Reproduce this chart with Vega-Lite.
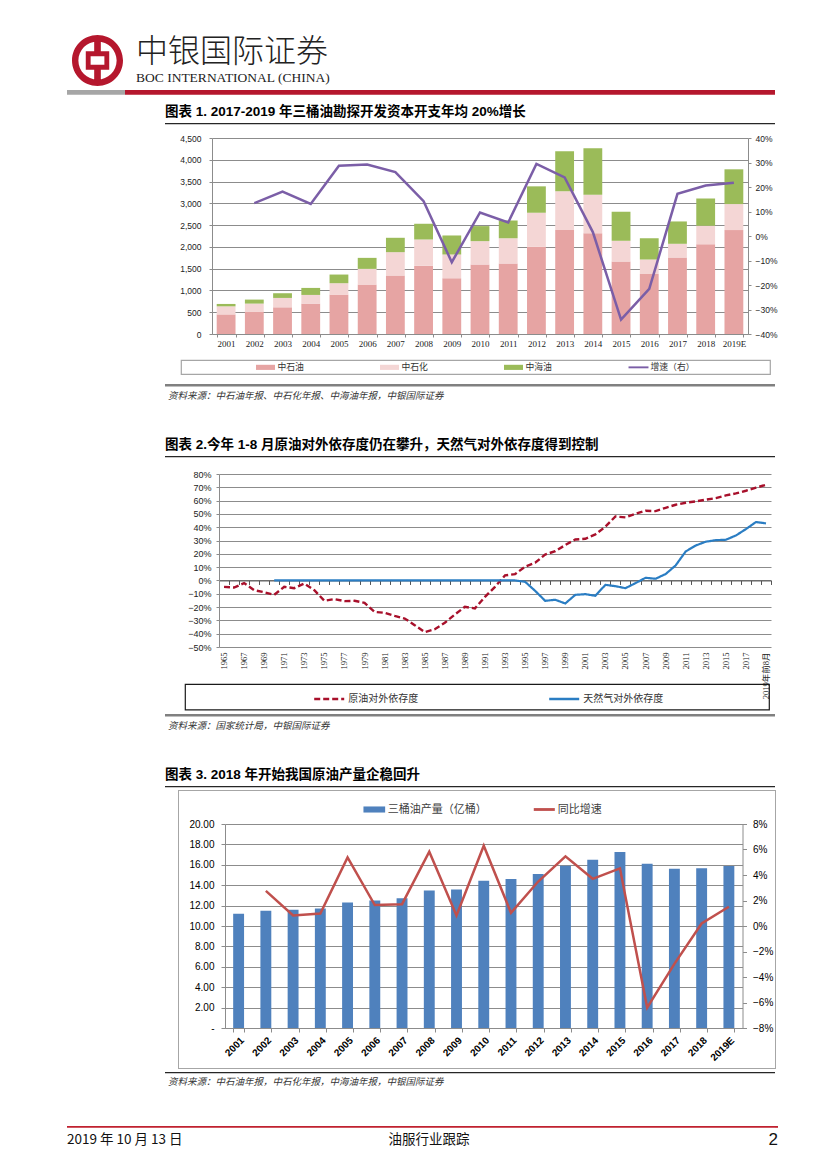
{
"$schema":"https://vega.github.io/schema/vega-lite/v6.json",
"background":"white",
"padding":0,
"columns":12,
"spacing":{"row":0,"column":-1000},
"bounds":"flush",
"align":{"row":"each","column":"none"},
"resolve":{"scale":{"x":"independent","y":"independent","color":"independent","strokeDash":"independent"},"legend":{"color":"independent","strokeDash":"independent"},"axis":{"x":"independent","y":"independent"}},
"config":{"view":{"stroke":null},"legend":{"padding":0}},
"concat":[
{"width":1067,"height":35,"data":{"values":[]},"mark":"point"},
{"width":1005,"height":0.01,"data":{"values":[]},"mark":"point"},
{"width":1053,"height":0.01,"data":{"values":[]},"mark":"point"},
{"width":1040,"height":0.01,"data":{"values":[]},"mark":"point"},
{"width":1013,"height":0.01,"data":{"values":[]},"mark":"point"},
{"width":1003,"height":0.01,"data":{"values":[]},"mark":"point"},
{"width":1004,"height":0.01,"data":{"values":[]},"mark":"point"},
{"width":1027,"height":0.01,"data":{"values":[]},"mark":"point"},
{"width":1007,"height":0.01,"data":{"values":[]},"mark":"point"},
{"width":1006,"height":0.01,"data":{"values":[]},"mark":"point"},
{"width":1550,"height":0.01,"data":{"values":[]},"mark":"point"},
{"width":1,"height":0.01,"data":{"values":[]},"mark":"point"},

{"width":0.5,"height":55,"data":{"values":[]},"mark":"point"},
{"width":0.01,"height":0.01,"data":{"values":[]},"mark":"point"},
{"width":51,"height":51,"data":{"values":[{"品牌":"中银国际"}]},"mark":{"type":"point","shape":"M0,-1A1,1,0,1,1,0,1A1,1,0,1,1,0,-1Z M0,-0.75A0.75,0.75,0,1,0,0,0.75A0.75,0.75,0,1,0,0,-0.75Z M-0.46,-0.36H0.46V0.36H-0.46Z M-0.27,-0.17V0.17H0.27V-0.17Z M-0.13,-0.8H0.13V-0.3H-0.13Z M-0.13,0.3H0.13V0.8H-0.13Z","size":2601,"filled":true,"color":"#B5172D","opacity":1,"strokeWidth":0},"encoding":{}},
{"width":0.01,"height":0.01,"data":{"values":[]},"mark":"point"},
{"width":0.01,"height":0.01,"data":{"values":[]},"mark":"point"},
{"width":0.01,"height":0.01,"data":{"values":[]},"mark":"point"},
{"width":0.01,"height":0.01,"data":{"values":[]},"mark":"point"},
{"width":0.01,"height":0.01,"data":{"values":[]},"mark":"point"},
{"width":0.01,"height":0.01,"data":{"values":[]},"mark":"point"},
{"width":0.01,"height":0.01,"data":{"values":[]},"mark":"point"},
{"width":0.01,"height":0.01,"data":{"values":[]},"mark":"point"},
{"width":0.01,"height":0.01,"data":{"values":[]},"mark":"point"},

{"width":0.5,"height":33,"data":{"values":[]},"mark":"point"},
{"width":58,"height":4.7,"data":{"values":[]},"mark":"point","view":{"fill":"#A6A6A6","stroke":null}},
{"width":0.01,"height":0.01,"data":{"values":[]},"mark":"point"},
{"width":650,"height":4.7,"data":{"values":[]},"mark":"point","view":{"fill":"#B5172D","stroke":null},
 "title":{"text":"中银国际证券","subtitle":"BOC INTERNATIONAL (CHINA)","orient":"top","anchor":"start","offset":5,"dx":11,"font":"Noto Sans CJK SC","fontSize":32,"fontWeight":300,"color":"#222","subtitleFont":"Liberation Serif","subtitleFontSize":13.5,"subtitleColor":"#222","subtitlePadding":2}},
{"width":0.01,"height":0.01,"data":{"values":[]},"mark":"point"},
{"width":0.01,"height":0.01,"data":{"values":[]},"mark":"point"},
{"width":0.01,"height":0.01,"data":{"values":[]},"mark":"point"},
{"width":0.01,"height":0.01,"data":{"values":[]},"mark":"point"},
{"width":0.01,"height":0.01,"data":{"values":[]},"mark":"point"},
{"width":0.01,"height":0.01,"data":{"values":[]},"mark":"point"},
{"width":0.01,"height":0.01,"data":{"values":[]},"mark":"point"},
{"width":0.01,"height":0.01,"data":{"values":[]},"mark":"point"},

{"width":0.5,"height":15,"data":{"values":[]},"mark":"point"},
{"width":0.01,"height":0.01,"data":{"values":[]},"mark":"point"},
{"width":0.01,"height":0.01,"data":{"values":[]},"mark":"point"},
{"width":0.01,"height":0.01,"data":{"values":[]},"mark":"point"},
{"width":610,"height":1.3,"data":{"values":[]},"mark":"point","view":{"fill":"#262626","stroke":null},
 "title":{"text":"图表 1. 2017-2019 年三桶油勘探开发资本开支年均 20%增长","orient":"top","anchor":"start","offset":5,"font":"Liberation Sans, Noto Sans CJK SC","fontSize":13.5,"fontWeight":"bold","color":"#000"}},
{"width":0.01,"height":0.01,"data":{"values":[]},"mark":"point"},
{"width":0.01,"height":0.01,"data":{"values":[]},"mark":"point"},
{"width":0.01,"height":0.01,"data":{"values":[]},"mark":"point"},
{"width":0.01,"height":0.01,"data":{"values":[]},"mark":"point"},
{"width":0.01,"height":0.01,"data":{"values":[]},"mark":"point"},
{"width":0.01,"height":0.01,"data":{"values":[]},"mark":"point"},
{"width":0.01,"height":0.01,"data":{"values":[]},"mark":"point"},

{"width":0.5,"height":222,"data":{"values":[]},"mark":"point"},
{"width":0.01,"height":0.01,"data":{"values":[]},"mark":"point"},
{"width":0.01,"height":0.01,"data":{"values":[]},"mark":"point"},
{"width":0.01,"height":0.01,"data":{"values":[]},"mark":"point"},
{"width":0.01,"height":0.01,"data":{"values":[]},"mark":"point"},
{"width":0.01,"height":0.01,"data":{"values":[]},"mark":"point"},
{"width":0.01,"height":0.01,"data":{"values":[]},"mark":"point"},
{"width":0.01,"height":0.01,"data":{"values":[]},"mark":"point"},
{"width":536,"height":196,
 "data":{"values":[
  {"年份":"2001","中石油":450,"中石化":185,"中海油":55,"增速":null},
  {"年份":"2002","中石油":515,"中石化":183,"中海油":92,"增速":0.134},
  {"年份":"2003","中石油":613,"中石化":215,"中海油":108,"增速":0.181},
  {"年份":"2004","中石油":698,"中石化":199,"中海油":161,"增速":0.131},
  {"年份":"2005","中石油":905,"中石化":261,"中海油":199,"增速":0.287},
  {"年份":"2006","中石油":1135,"中石化":360,"中海油":253,"增速":0.292},
  {"年份":"2007","中石油":1342,"中石化":537,"中海油":330,"增速":0.261},
  {"年份":"2008","中石油":1564,"中石化":606,"中海油":361,"增速":0.142},
  {"年份":"2009","中石油":1281,"中石化":544,"中海油":437,"增速":-0.107},
  {"年份":"2010","中石油":1595,"中石化":537,"中海油":345,"增速":0.096},
  {"年份":"2011","中石油":1618,"中石化":583,"中海油":406,"增速":0.055},
  {"年份":"2012","中石油":2002,"中石化":782,"中海油":606,"增速":0.294},
  {"年份":"2013","中石油":2385,"中石化":890,"中海油":920,"增速":0.239},
  {"年份":"2014","中石油":2316,"中石化":882,"中海油":1066,"增速":0.016},
  {"年份":"2015","中石油":1664,"中石化":476,"中海油":667,"增速":-0.341},
  {"年份":"2016","中石油":1380,"中石化":330,"中海油":491,"增速":-0.216},
  {"年份":"2017","中石油":1756,"中石化":315,"中海油":513,"增速":0.172},
  {"年份":"2018","中石油":2063,"中石化":422,"中海油":628,"增速":0.206},
  {"年份":"2019E","中石油":2385,"中石化":598,"中海油":798,"增速":0.217}
 ]},
 "layer":[
  {"transform":[{"fold":["中石油","中石化","中海油"],"as":["公司","资本开支"]}],
   "mark":{"type":"bar"},
   "encoding":{
    "x":{"field":"年份","type":"ordinal","sort":null,"scale":{"type":"band","paddingInner":0.333,"paddingOuter":0.1667},
         "axis":{"title":null,"labelAngle":0,"labelFont":"Liberation Serif","labelFontSize":9,"labelColor":"#222","tickBand":"extent","tickSize":3,"tickColor":"#8c8c8c","domainColor":"#8c8c8c","labelPadding":2}},
    "y":{"field":"资本开支","type":"quantitative","stack":"zero","scale":{"domain":[0,4500],"nice":false},
         "axis":{"title":null,"values":[0,500,1000,1500,2000,2500,3000,3500,4000,4500],"format":",.0f","labelOverlap":false,"labelFont":"Liberation Sans","labelFontSize":8.5,"labelColor":"#222","grid":true,"gridColor":"#8c8c8c","tickSize":3,"tickColor":"#8c8c8c","domainColor":"#8c8c8c","labelPadding":8}},
    "color":{"field":"公司","type":"nominal","sort":["中石油","中石化","中海油","增速（右）"],
             "scale":{"domain":["中石油","中石化","中海油","增速（右）"],"range":["#E6A4A3","#F4D6D5","#9BBB59","#7B5EA7"]},
             "legend":{"title":null,"orient":"none","legendX":44,"legendY":219.5,"direction":"horizontal","padding":0,"symbolSize":361,"labelFont":"Noto Sans CJK SC","labelFontSize":8.8,"labelColor":"#333","labelOffset":2.5,"columnPadding":76,"symbolStrokeWidth":0,
               "encode":{"symbols":{"update":{"shape":{"signal":"datum.value === '增速（右）' ? 'M-1.05,-0.1H1.05V0.1H-1.05Z' : 'M-1,-0.27H1V0.27H-1Z'"}}}}}},
    "order":{"field":"公司","sort":"descending"}
   }},
  {"mark":{"type":"line","strokeWidth":2.5},
   "encoding":{
    "x":{"field":"年份","type":"ordinal","sort":null},
    "y":{"field":"增速","type":"quantitative","scale":{"domain":[-0.4,0.4],"nice":false},
         "axis":{"orient":"right","title":null,"values":[-0.4,-0.3,-0.2,-0.1,0,0.1,0.2,0.3,0.4],"format":".0%","labelOverlap":false,"labelFont":"Liberation Sans","labelFontSize":8.5,"labelColor":"#222","grid":false,"tickSize":3,"tickColor":"#8c8c8c","domainColor":"#8c8c8c","labelPadding":4}},
    "color":{"datum":"增速（右）"}
   }}
 ],
 "resolve":{"scale":{"y":"independent"}}
},
{"width":0.01,"height":0.01,"data":{"values":[]},"mark":"point"},
{"width":0.01,"height":0.01,"data":{"values":[]},"mark":"point"},
{"width":0.01,"height":0.01,"data":{"values":[]},"mark":"point"},

{"width":0.5,"height":24,"data":{"values":[]},"mark":"point"},
{"width":0.01,"height":0.01,"data":{"values":[]},"mark":"point"},
{"width":0.01,"height":0.01,"data":{"values":[]},"mark":"point"},
{"width":0.01,"height":0.01,"data":{"values":[]},"mark":"point"},
{"width":0.01,"height":0.01,"data":{"values":[]},"mark":"point"},
{"width":0.01,"height":0.01,"data":{"values":[]},"mark":"point"},
{"width":589,"height":14,"data":{"values":[]},"mark":"point","view":{"fill":null,"stroke":"#A6A6A6","strokeWidth":1.2}},
{"width":0.01,"height":0.01,"data":{"values":[]},"mark":"point"},
{"width":0.01,"height":0.01,"data":{"values":[]},"mark":"point"},
{"width":0.01,"height":0.01,"data":{"values":[]},"mark":"point"},
{"width":0.01,"height":0.01,"data":{"values":[]},"mark":"point"},
{"width":0.01,"height":0.01,"data":{"values":[]},"mark":"point"},

{"width":0.5,"height":72,"data":{"values":[]},"mark":"point"},
{"width":0.01,"height":0.01,"data":{"values":[]},"mark":"point"},
{"width":0.01,"height":0.01,"data":{"values":[]},"mark":"point"},
{"width":0.01,"height":0.01,"data":{"values":[]},"mark":"point"},
{"width":610,"height":2.5,"data":{"values":[]},"mark":"point","view":{"fill":"#808080","stroke":null},
 "title":{"text":"资料来源：中石油年报、中石化年报、中海油年报，中银国际证券","orient":"bottom","anchor":"start","offset":4,"dx":3,"font":"Noto Sans CJK SC","fontSize":9.5,"fontStyle":"italic","fontWeight":"normal","color":"#333"}},
{"width":0.01,"height":0.01,"data":{"values":[]},"mark":"point"},
{"width":0.01,"height":0.01,"data":{"values":[]},"mark":"point"},
{"width":0.01,"height":0.01,"data":{"values":[]},"mark":"point"},
{"width":0.01,"height":0.01,"data":{"values":[]},"mark":"point"},
{"width":0.01,"height":0.01,"data":{"values":[]},"mark":"point"},
{"width":0.01,"height":0.01,"data":{"values":[]},"mark":"point"},
{"width":0.01,"height":0.01,"data":{"values":[]},"mark":"point"},

{"width":0.5,"height":18,"data":{"values":[]},"mark":"point"},
{"width":0.01,"height":0.01,"data":{"values":[]},"mark":"point"},
{"width":0.01,"height":0.01,"data":{"values":[]},"mark":"point"},
{"width":0.01,"height":0.01,"data":{"values":[]},"mark":"point"},
{"width":610,"height":1.3,"data":{"values":[]},"mark":"point","view":{"fill":"#262626","stroke":null},
 "title":{"text":"图表 2.今年 1-8 月原油对外依存度仍在攀升，天然气对外依存度得到控制","orient":"top","anchor":"start","offset":5,"font":"Liberation Sans, Noto Sans CJK SC","fontSize":13.5,"fontWeight":"bold","color":"#000"}},
{"width":0.01,"height":0.01,"data":{"values":[]},"mark":"point"},
{"width":0.01,"height":0.01,"data":{"values":[]},"mark":"point"},
{"width":0.01,"height":0.01,"data":{"values":[]},"mark":"point"},
{"width":0.01,"height":0.01,"data":{"values":[]},"mark":"point"},
{"width":0.01,"height":0.01,"data":{"values":[]},"mark":"point"},
{"width":0.01,"height":0.01,"data":{"values":[]},"mark":"point"},
{"width":0.01,"height":0.01,"data":{"values":[]},"mark":"point"},

{"width":0.5,"height":210,"data":{"values":[]},"mark":"point"},
{"width":0.01,"height":0.01,"data":{"values":[]},"mark":"point"},
{"width":0.01,"height":0.01,"data":{"values":[]},"mark":"point"},
{"width":0.01,"height":0.01,"data":{"values":[]},"mark":"point"},
{"width":0.01,"height":0.01,"data":{"values":[]},"mark":"point"},
{"width":0.01,"height":0.01,"data":{"values":[]},"mark":"point"},
{"width":0.01,"height":0.01,"data":{"values":[]},"mark":"point"},
{"width":0.01,"height":0.01,"data":{"values":[]},"mark":"point"},
{"width":0.01,"height":0.01,"data":{"values":[]},"mark":"point"},
{"width":552,"height":173,
 "data":{"values":[
  {"年份":"1965","原油":-0.048,"天然气":null},
  {"年份":"1966","原油":-0.053,"天然气":null},
  {"年份":"1967","原油":-0.020,"天然气":null},
  {"年份":"1968","原油":-0.073,"天然气":null},
  {"年份":"1969","原油":-0.088,"天然气":null},
  {"年份":"1970","原油":-0.108,"天然气":0},
  {"年份":"1971","原油":-0.048,"天然气":0},
  {"年份":"1972","原油":-0.058,"天然气":0},
  {"年份":"1973","原油":-0.023,"天然气":0},
  {"年份":"1974","原油":-0.073,"天然气":0},
  {"年份":"1975","原油":-0.153,"天然气":0},
  {"年份":"1976","原油":-0.140,"天然气":0},
  {"年份":"1977","原油":-0.155,"天然气":0},
  {"年份":"1978","原油":-0.153,"天然气":0},
  {"年份":"1979","原油":-0.168,"天然气":0},
  {"年份":"1980","原油":-0.236,"天然气":0},
  {"年份":"1981","原油":-0.243,"天然气":0},
  {"年份":"1982","原油":-0.266,"天然气":0},
  {"年份":"1983","原油":-0.286,"天然气":0},
  {"年份":"1984","原油":-0.336,"天然气":0},
  {"年份":"1985","原油":-0.388,"天然气":0},
  {"年份":"1986","原油":-0.366,"天然气":0},
  {"年份":"1987","原油":-0.318,"天然气":0},
  {"年份":"1988","原油":-0.256,"天然气":0},
  {"年份":"1989","原油":-0.198,"天然气":0},
  {"年份":"1990","原油":-0.210,"天然气":0},
  {"年份":"1991","原油":-0.123,"天然气":0},
  {"年份":"1992","原油":-0.048,"天然气":0},
  {"年份":"1993","原油":0.038,"天然气":0},
  {"年份":"1994","原油":0.048,"天然气":0},
  {"年份":"1995","原油":0.103,"天然气":-0.010},
  {"年份":"1996","原油":0.133,"天然气":-0.078},
  {"年份":"1997","原油":0.195,"天然气":-0.153},
  {"年份":"1998","原油":0.220,"天然气":-0.145},
  {"年份":"1999","原油":0.266,"天然气":-0.173},
  {"年份":"2000","原油":0.308,"天然气":-0.108},
  {"年份":"2001","原油":0.313,"天然气":-0.103},
  {"年份":"2002","原油":0.346,"天然气":-0.115},
  {"年份":"2003","原油":0.404,"天然气":-0.033},
  {"年份":"2004","原油":0.481,"天然气":-0.043},
  {"年份":"2005","原油":0.474,"天然气":-0.058},
  {"年份":"2006","原油":0.501,"天然气":-0.020},
  {"年份":"2007","原油":0.524,"天然气":0.020},
  {"年份":"2008","原油":0.521,"天然气":0.013},
  {"年份":"2009","原油":0.546,"天然气":0.048},
  {"年份":"2010","原油":0.569,"天然气":0.113},
  {"年份":"2011","原油":0.584,"天然气":0.218},
  {"年份":"2012","原油":0.594,"天然气":0.263},
  {"年份":"2013","原油":0.607,"天然气":0.291},
  {"年份":"2014","原油":0.619,"天然气":0.303},
  {"年份":"2015","原油":0.639,"天然气":0.306},
  {"年份":"2016","原油":0.654,"天然气":0.338},
  {"年份":"2017","原油":0.674,"天然气":0.386},
  {"年份":"2018","原油":0.697,"天然气":0.439},
  {"年份":"2019年前8月","原油":0.719,"天然气":0.429}
 ]},
 "layer":[
  {"mark":{"type":"line","strokeWidth":2.4},
   "encoding":{
    "x":{"field":"年份","type":"ordinal","sort":null,"scale":{"type":"band","paddingInner":0,"paddingOuter":0},
         "axis":{"title":null,"orient":"bottom","values":["1965","1967","1969","1971","1973","1975","1977","1979","1981","1983","1985","1987","1989","1991","1993","1995","1997","1999","2001","2003","2005","2007","2009","2011","2013","2015","2017","2019年前8月"],"labelAngle":-90,"labelFont":"Liberation Serif, Noto Sans CJK SC","labelFontSize":8.5,"labelColor":"#222","ticks":false,"domain":false,"labelPadding":5,"labelOverlap":false}},
    "y":{"field":"原油","type":"quantitative","scale":{"domain":[-0.5,0.8],"nice":false},
         "axis":{"title":null,"values":[-0.5,-0.4,-0.3,-0.2,-0.1,0,0.1,0.2,0.3,0.4,0.5,0.6,0.7,0.8],"tickCount":14,"format":".0%","labelOverlap":false,"labelFont":"Liberation Sans","labelFontSize":9,"labelColor":"#222","grid":true,"gridColor":"#8c8c8c","tickSize":3,"tickColor":"#8c8c8c","domainColor":"#8c8c8c","labelPadding":5}},
    "color":{"datum":"原油对外依存度","scale":{"domain":["原油对外依存度","天然气对外依存度"],"range":["#A8102B","#2A7DC3"]},
             "legend":{"title":null,"orient":"none","legendX":93.7,"legendY":208.3,"direction":"horizontal","padding":0,"symbolType":"stroke","symbolSize":900,"symbolStrokeWidth":2.5,"labelFont":"Noto Sans CJK SC","labelFontSize":10,"labelColor":"#333","labelOffset":2.5,"columnPadding":125,
               "encode":{"symbols":{"update":{"strokeDash":{"signal":"datum.value === '原油对外依存度' ? [6,3] : [1,0]"}}}}}},
    "strokeDash":{"datum":"原油对外依存度","scale":{"domain":["原油对外依存度","天然气对外依存度"],"range":[[6,3],[1,0]]},"legend":null}
   }},
  {"mark":{"type":"line","strokeWidth":2.2},
   "encoding":{
    "x":{"field":"年份","type":"ordinal","sort":null,
         "axis":{"title":null,"orient":"top","offset":-106.46,"labels":false,"ticks":true,"tickBand":"extent","tickSize":-4,"tickColor":"#555","domain":true,"domainColor":"#555","grid":false}},
    "y":{"field":"天然气","type":"quantitative",
         "axis":{"title":null,"values":[-0.5,-0.4,-0.3,-0.2,-0.1,0,0.1,0.2,0.3,0.4,0.5,0.6,0.7,0.8],"tickCount":14,"format":".0%","labelOverlap":false,"labelFont":"Liberation Sans","labelFontSize":9,"labelColor":"#222","grid":true,"gridColor":"#8c8c8c","tickSize":3,"tickColor":"#8c8c8c","domainColor":"#8c8c8c","labelPadding":5}},
    "color":{"datum":"天然气对外依存度"},
    "strokeDash":{"datum":"天然气对外依存度"}
   }}
 ],
 "resolve":{"axis":{"x":"independent"}}
},
{"width":0.01,"height":0.01,"data":{"values":[]},"mark":"point"},
{"width":0.01,"height":0.01,"data":{"values":[]},"mark":"point"},

{"width":0.5,"height":30,"data":{"values":[]},"mark":"point"},
{"width":0.01,"height":0.01,"data":{"values":[]},"mark":"point"},
{"width":0.01,"height":0.01,"data":{"values":[]},"mark":"point"},
{"width":0.01,"height":0.01,"data":{"values":[]},"mark":"point"},
{"width":0.01,"height":0.01,"data":{"values":[]},"mark":"point"},
{"width":0.01,"height":0.01,"data":{"values":[]},"mark":"point"},
{"width":0.01,"height":0.01,"data":{"values":[]},"mark":"point"},
{"width":584,"height":25.5,"data":{"values":[]},"mark":"point","view":{"fill":null,"stroke":"#1a1a1a","strokeWidth":1.2}},
{"width":0.01,"height":0.01,"data":{"values":[]},"mark":"point"},
{"width":0.01,"height":0.01,"data":{"values":[]},"mark":"point"},
{"width":0.01,"height":0.01,"data":{"values":[]},"mark":"point"},
{"width":0.01,"height":0.01,"data":{"values":[]},"mark":"point"},

{"width":0.5,"height":72,"data":{"values":[]},"mark":"point"},
{"width":0.01,"height":0.01,"data":{"values":[]},"mark":"point"},
{"width":0.01,"height":0.01,"data":{"values":[]},"mark":"point"},
{"width":0.01,"height":0.01,"data":{"values":[]},"mark":"point"},
{"width":610,"height":2.5,"data":{"values":[]},"mark":"point","view":{"fill":"#808080","stroke":null},
 "title":{"text":"资料来源：国家统计局，中银国际证券","orient":"bottom","anchor":"start","offset":4,"dx":3,"font":"Noto Sans CJK SC","fontSize":9.5,"fontStyle":"italic","fontWeight":"normal","color":"#333"}},
{"width":0.01,"height":0.01,"data":{"values":[]},"mark":"point"},
{"width":0.01,"height":0.01,"data":{"values":[]},"mark":"point"},
{"width":0.01,"height":0.01,"data":{"values":[]},"mark":"point"},
{"width":0.01,"height":0.01,"data":{"values":[]},"mark":"point"},
{"width":0.01,"height":0.01,"data":{"values":[]},"mark":"point"},
{"width":0.01,"height":0.01,"data":{"values":[]},"mark":"point"},
{"width":0.01,"height":0.01,"data":{"values":[]},"mark":"point"},

{"width":0.5,"height":4,"data":{"values":[]},"mark":"point"},
{"width":0.01,"height":0.01,"data":{"values":[]},"mark":"point"},
{"width":0.01,"height":0.01,"data":{"values":[]},"mark":"point"},
{"width":0.01,"height":0.01,"data":{"values":[]},"mark":"point"},
{"width":610,"height":1.3,"data":{"values":[]},"mark":"point","view":{"fill":"#262626","stroke":null},
 "title":{"text":"图表 3. 2018 年开始我国原油产量企稳回升","orient":"top","anchor":"start","offset":5,"font":"Liberation Sans, Noto Sans CJK SC","fontSize":13.5,"fontWeight":"bold","color":"#000"}},
{"width":0.01,"height":0.01,"data":{"values":[]},"mark":"point"},
{"width":0.01,"height":0.01,"data":{"values":[]},"mark":"point"},
{"width":0.01,"height":0.01,"data":{"values":[]},"mark":"point"},
{"width":0.01,"height":0.01,"data":{"values":[]},"mark":"point"},
{"width":0.01,"height":0.01,"data":{"values":[]},"mark":"point"},
{"width":0.01,"height":0.01,"data":{"values":[]},"mark":"point"},
{"width":0.01,"height":0.01,"data":{"values":[]},"mark":"point"},

{"width":0.5,"height":1,"data":{"values":[]},"mark":"point"},
{"width":0.01,"height":0.01,"data":{"values":[]},"mark":"point"},
{"width":0.01,"height":0.01,"data":{"values":[]},"mark":"point"},
{"width":0.01,"height":0.01,"data":{"values":[]},"mark":"point"},
{"width":0.01,"height":0.01,"data":{"values":[]},"mark":"point"},
{"width":598,"height":1,"data":{"values":[]},"mark":"point","view":{"fill":"#A6A6A6","stroke":null}},
{"width":0.01,"height":0.01,"data":{"values":[]},"mark":"point"},
{"width":0.01,"height":0.01,"data":{"values":[]},"mark":"point"},
{"width":0.01,"height":0.01,"data":{"values":[]},"mark":"point"},
{"width":0.01,"height":0.01,"data":{"values":[]},"mark":"point"},
{"width":0.01,"height":0.01,"data":{"values":[]},"mark":"point"},
{"width":0.01,"height":0.01,"data":{"values":[]},"mark":"point"},

{"width":0.5,"height":33,"data":{"values":[]},"mark":"point"},
{"width":0.01,"height":0.01,"data":{"values":[]},"mark":"point"},
{"width":0.01,"height":0.01,"data":{"values":[]},"mark":"point"},
{"width":0.01,"height":0.01,"data":{"values":[]},"mark":"point"},
{"width":0.01,"height":0.01,"data":{"values":[]},"mark":"point"},
{"width":1,"height":33,"data":{"values":[]},"mark":"point","view":{"fill":"#A6A6A6","stroke":null}},
{"width":0.01,"height":0.01,"data":{"values":[]},"mark":"point"},
{"width":0.01,"height":0.01,"data":{"values":[]},"mark":"point"},
{"width":0.01,"height":0.01,"data":{"values":[]},"mark":"point"},
{"width":0.01,"height":0.01,"data":{"values":[]},"mark":"point"},
{"width":0.01,"height":0.01,"data":{"values":[]},"mark":"point"},
{"width":1,"height":33,"data":{"values":[]},"mark":"point","view":{"fill":"#A6A6A6","stroke":null}},

{"width":0.5,"height":204,"data":{"values":[]},"mark":"point"},
{"width":0.01,"height":0.01,"data":{"values":[]},"mark":"point"},
{"width":0.01,"height":0.01,"data":{"values":[]},"mark":"point"},
{"width":0.01,"height":0.01,"data":{"values":[]},"mark":"point"},
{"width":0.01,"height":0.01,"data":{"values":[]},"mark":"point"},
{"width":1,"height":204,"data":{"values":[]},"mark":"point","view":{"fill":"#A6A6A6","stroke":null}},
{"width":0.01,"height":0.01,"data":{"values":[]},"mark":"point"},
{"width":0.01,"height":0.01,"data":{"values":[]},"mark":"point"},
{"width":0.01,"height":0.01,"data":{"values":[]},"mark":"point"},
{"width":0.01,"height":0.01,"data":{"values":[]},"mark":"point"},
{"width":517.5,"height":204,
 "data":{"values":[
  {"年份":"2001","产量":11.19,"增速":null},
  {"年份":"2002","产量":11.49,"增速":0.0276},
  {"年份":"2003","产量":11.59,"增速":0.0082},
  {"年份":"2004","产量":11.72,"增速":0.0098},
  {"年份":"2005","产量":12.31,"增速":0.0538},
  {"年份":"2006","产量":12.50,"增速":0.0164},
  {"年份":"2007","产量":12.73,"增速":0.0171},
  {"年份":"2008","产量":13.49,"增速":0.0582},
  {"年份":"2009","产量":13.58,"增速":0.0082},
  {"年份":"2010","产量":14.44,"增速":0.0630},
  {"年份":"2011","产量":14.60,"增速":0.0103},
  {"年份":"2012","产量":15.09,"增速":0.0349},
  {"年份":"2013","产量":15.91,"增速":0.0546},
  {"年份":"2014","产量":16.50,"增速":0.0370},
  {"年份":"2015","产量":17.25,"增速":0.0452},
  {"年份":"2016","产量":16.10,"增速":-0.0640},
  {"年份":"2017","产量":15.61,"增速":-0.0297},
  {"年份":"2018","产量":15.65,"增速":0.0020},
  {"年份":"2019E","产量":15.88,"增速":0.0151}
 ]},
 "layer":[
  {"mark":{"type":"bar"},
   "encoding":{
    "x":{"field":"年份","type":"ordinal","sort":null,"scale":{"type":"band","paddingInner":0.6,"paddingOuter":0.3},
         "axis":{"title":null,"labelAngle":-45,"labelFont":"Liberation Sans","labelFontSize":10,"labelFontWeight":"bold","labelColor":"#000","tickBand":"extent","tickSize":4,"tickColor":"#8c8c8c","domainColor":"#8c8c8c","labelPadding":3}},
    "y":{"field":"产量","type":"quantitative","scale":{"domain":[0,20],"nice":false},
         "axis":{"title":null,"values":[0,2,4,6,8,10,12,14,16,18,20],"labelExpr":"datum.value === 0 ? '-' : format(datum.value, '.2f')","labelOverlap":false,"labelFont":"Liberation Sans","labelFontSize":10,"labelColor":"#000","grid":true,"gridColor":"#8c8c8c","tickSize":4,"tickColor":"#8c8c8c","domainColor":"#8c8c8c","labelPadding":7}},
    "color":{"datum":"三桶油产量（亿桶）","scale":{"domain":["三桶油产量（亿桶）","同比增速"],"range":["#4F81BD","#C0504D"]},
             "legend":{"title":null,"orient":"none","legendX":138.3,"legendY":-25.5,"direction":"horizontal","padding":0,"symbolSize":471,"labelFont":"Noto Sans CJK SC","labelFontSize":11,"labelColor":"#404040","labelOffset":2.5,"columnPadding":46,"symbolStrokeWidth":0,
               "encode":{"symbols":{"update":{"shape":{"signal":"datum.value === '同比增速' ? 'M-0.97,-0.13H0.97V0.13H-0.97Z' : 'M-1,-0.28H1V0.28H-1Z'"}}}}}}
   }},
  {"mark":{"type":"line","strokeWidth":2.5},
   "encoding":{
    "x":{"field":"年份","type":"ordinal","sort":null},
    "y":{"field":"增速","type":"quantitative","scale":{"domain":[-0.08,0.08],"nice":false},
         "axis":{"orient":"right","title":null,"values":[-0.08,-0.06,-0.04,-0.02,0,0.02,0.04,0.06,0.08],"format":".0%","labelOverlap":false,"labelFont":"Liberation Sans","labelFontSize":10,"labelColor":"#000","grid":false,"tickSize":4,"tickColor":"#8c8c8c","domainColor":"#8c8c8c","labelPadding":6}},
    "color":{"datum":"同比增速"}
   }}
 ],
 "resolve":{"scale":{"y":"independent"}}
},
{"width":1,"height":204,"data":{"values":[]},"mark":"point","view":{"fill":"#A6A6A6","stroke":null}},

{"width":0.5,"height":40,"data":{"values":[]},"mark":"point"},
{"width":0.01,"height":0.01,"data":{"values":[]},"mark":"point"},
{"width":0.01,"height":0.01,"data":{"values":[]},"mark":"point"},
{"width":0.01,"height":0.01,"data":{"values":[]},"mark":"point"},
{"width":0.01,"height":0.01,"data":{"values":[]},"mark":"point"},
{"width":1,"height":40,"data":{"values":[]},"mark":"point","view":{"fill":"#A6A6A6","stroke":null}},
{"width":0.01,"height":0.01,"data":{"values":[]},"mark":"point"},
{"width":0.01,"height":0.01,"data":{"values":[]},"mark":"point"},
{"width":0.01,"height":0.01,"data":{"values":[]},"mark":"point"},
{"width":0.01,"height":0.01,"data":{"values":[]},"mark":"point"},
{"width":0.01,"height":0.01,"data":{"values":[]},"mark":"point"},
{"width":1,"height":40,"data":{"values":[]},"mark":"point","view":{"fill":"#A6A6A6","stroke":null}},

{"width":0.5,"height":4,"data":{"values":[]},"mark":"point"},
{"width":0.01,"height":0.01,"data":{"values":[]},"mark":"point"},
{"width":0.01,"height":0.01,"data":{"values":[]},"mark":"point"},
{"width":0.01,"height":0.01,"data":{"values":[]},"mark":"point"},
{"width":0.01,"height":0.01,"data":{"values":[]},"mark":"point"},
{"width":598,"height":1,"data":{"values":[]},"mark":"point","view":{"fill":"#A6A6A6","stroke":null}},
{"width":0.01,"height":0.01,"data":{"values":[]},"mark":"point"},
{"width":0.01,"height":0.01,"data":{"values":[]},"mark":"point"},
{"width":0.01,"height":0.01,"data":{"values":[]},"mark":"point"},
{"width":0.01,"height":0.01,"data":{"values":[]},"mark":"point"},
{"width":0.01,"height":0.01,"data":{"values":[]},"mark":"point"},
{"width":0.01,"height":0.01,"data":{"values":[]},"mark":"point"},

{"width":0.5,"height":54,"data":{"values":[]},"mark":"point"},
{"width":0.01,"height":0.01,"data":{"values":[]},"mark":"point"},
{"width":0.01,"height":0.01,"data":{"values":[]},"mark":"point"},
{"width":0.01,"height":0.01,"data":{"values":[]},"mark":"point"},
{"width":610,"height":1.3,"data":{"values":[]},"mark":"point","view":{"fill":"#262626","stroke":null},
 "title":{"text":"资料来源：中石油年报，中石化年报，中海油年报，中银国际证券","orient":"bottom","anchor":"start","offset":4,"dx":3,"font":"Noto Sans CJK SC","fontSize":9.5,"fontStyle":"italic","fontWeight":"normal","color":"#333"}},
{"width":0.01,"height":0.01,"data":{"values":[]},"mark":"point"},
{"width":0.01,"height":0.01,"data":{"values":[]},"mark":"point"},
{"width":0.01,"height":0.01,"data":{"values":[]},"mark":"point"},
{"width":0.01,"height":0.01,"data":{"values":[]},"mark":"point"},
{"width":0.01,"height":0.01,"data":{"values":[]},"mark":"point"},
{"width":0.01,"height":0.01,"data":{"values":[]},"mark":"point"},
{"width":0.01,"height":0.01,"data":{"values":[]},"mark":"point"},

{"width":0.5,"height":1,"data":{"values":[]},"mark":"point"},
{"width":158,"height":1.8,"data":{"values":[]},"mark":"point","view":{"fill":"#C0212F","stroke":null},
 "title":{"text":"2019 年 10 月 13 日","orient":"bottom","anchor":"start","offset":5,"font":"Liberation Sans Narrow, Noto Sans CJK SC","fontSize":13.5,"fontWeight":"normal","color":"#111"}},
{"width":0.01,"height":0.01,"data":{"values":[]},"mark":"point"},
{"width":0.01,"height":0.01,"data":{"values":[]},"mark":"point"},
{"width":0.01,"height":0.01,"data":{"values":[]},"mark":"point"},
{"width":0.01,"height":0.01,"data":{"values":[]},"mark":"point"},
{"width":0.01,"height":0.01,"data":{"values":[]},"mark":"point"},
{"width":0.01,"height":0.01,"data":{"values":[]},"mark":"point"},
{"width":0.01,"height":0.01,"data":{"values":[]},"mark":"point"},
{"width":0.01,"height":0.01,"data":{"values":[]},"mark":"point"},
{"width":550,"height":1.8,"data":{"values":[]},"mark":"point","view":{"fill":"#C0212F","stroke":null},
 "title":{"text":"油服行业跟踪","orient":"bottom","anchor":"middle","offset":5,"dx":-71,"font":"Noto Sans CJK SC","fontSize":13.5,"fontWeight":"normal","color":"#111"}},
{"width":3,"height":1.8,"data":{"values":[]},"mark":"point","view":{"fill":"#C0212F","stroke":null},
 "title":{"text":"2","orient":"bottom","anchor":"end","offset":4,"font":"Liberation Sans Narrow, Liberation Sans","fontSize":17,"fontWeight":"normal","color":"#111"}}
]
}
